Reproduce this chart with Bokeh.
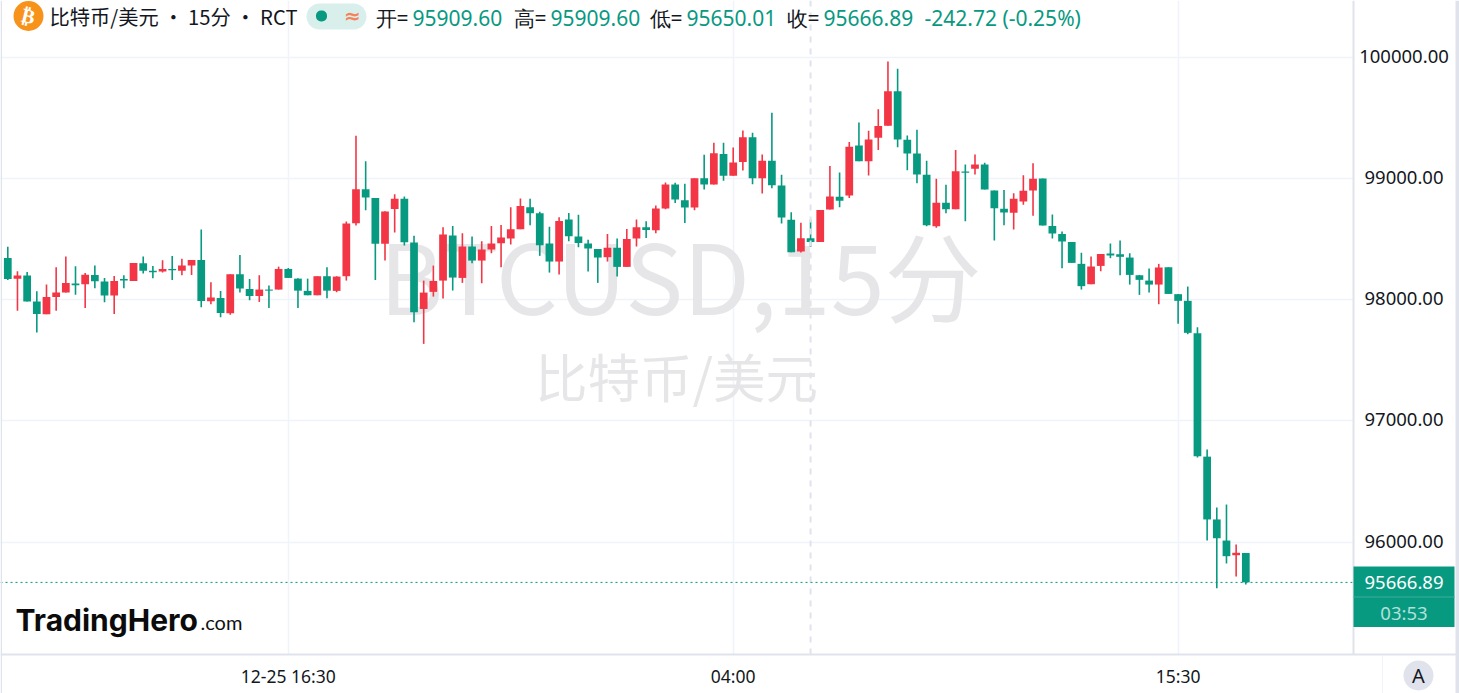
from bokeh.embed import file_html
from bokeh.resources import INLINE
from bokeh.plotting import figure
from bokeh.models import (ColumnDataSource, FixedTicker, Label, BoxAnnotation, Span, Range1d)

opens = [98343,98172,98197,97983,97878,98021,98057,98131,98126,98203,98148,98032,98170,98153,98299,98238,98230,98252,98238,98280,
98326,97985,98013,97886,98208,98087,98029,98082,98082,98252,98172,98071,98035,98192,98071,98192,98629,98910,98838,98459,
98747,98830,98470,97922,98063,98156,98527,98178,98437,98321,98412,98464,98503,98580,98761,98712,98461,98313,98659,98519,
98461,98417,98349,98426,98269,98503,98596,98571,98750,98948,98819,98759,99001,98948,99199,99020,99133,99339,99001,99144,
98940,98657,98396,98506,98475,98742,98847,98858,99270,99141,99333,99432,99718,99317,99204,99028,98605,98797,98745,99056,
99078,99113,98899,98748,98715,98808,98899,98998,98607,98541,98475,98294,98126,98277,98379,98374,98346,98200,98156,98123,
98266,98044,97989,97722,96704,96186,96012,95891,95909.60]
highs = [98436,98233,98227,98068,98123,98266,98354,98274,98219,98280,98178,98194,98200,98302,98354,98277,98324,98359,98337,98326,
98577,98142,98071,98208,98368,98170,98200,98115,98271,98260,98175,98172,98192,98266,98192,98643,99350,99141,98838,98728,
98868,98849,98525,98156,98280,98596,98607,98547,98519,98481,98607,98615,98761,98833,98830,98723,98599,98679,98714,98698,
98492,98417,98541,98503,98582,98659,98646,98775,98965,98962,98954,99001,99193,99292,99292,99254,99394,99375,99196,99540,
99028,98720,98632,98660,98739,99102,99047,99300,99460,99391,99570,99963,99903,99353,99399,99144,98995,98946,99234,99113,
99196,99127,98899,98904,98877,99025,99124,98998,98701,98561,98475,98385,98354,98376,98462,98486,98382,98203,98255,98294,
98266,98046,98107,97771,96763,96285,96309,95979,95909.60]
lows = [98161,97908,97983,97727,97878,97908,98057,98040,97930,98093,97977,97881,98093,98153,98214,98175,98222,98161,98200,98203,
97936,97961,97853,97875,98057,97994,97980,97930,98082,98178,97930,98035,98035,98010,98060,98156,98610,98736,98161,98321,
98552,98445,97812,97634,98024,98008,98074,98137,98299,98134,98382,98266,98453,98580,98613,98360,98222,98206,98481,98431,
98230,98137,98313,98189,98269,98437,98508,98547,98745,98795,98630,98737,98907,98948,98979,99020,99064,98951,98874,98918,
98627,98390,98387,98434,98475,98742,98761,98838,99141,99023,99234,99432,99256,99067,98959,98605,98591,98712,98745,98646,
99031,98907,98486,98613,98577,98781,98690,98610,98503,98258,98302,98082,98126,98233,98341,98200,98123,98038,98057,97961,
98046,97799,97714,96697,96012,95619,95823,95716,95650.01]
closes = [98170,98197,97983,97881,98021,98057,98137,98117,98205,98150,98032,98153,98156,98302,98238,98225,98252,98241,98280,98326,
97988,98016,97889,98208,98090,98029,98082,98073,98252,98178,98073,98035,98192,98073,98189,98626,98910,98841,98459,98725,
98830,98472,97895,98057,98153,98536,98181,98437,98321,98412,98461,98511,98580,98772,98712,98448,98313,98648,98522,98467,
98420,98346,98426,98269,98500,98596,98574,98750,98948,98825,98759,99001,98948,99207,99020,99130,99339,99001,99144,98943,
98676,98390,98506,98475,98739,98849,98814,99259,99141,99320,99430,99718,99320,99204,99031,98613,98797,98745,99058,99045,
99113,98907,98753,98717,98830,98896,98995,98610,98544,98478,98302,98110,98272,98376,98363,98352,98203,98162,98123,98264,
98046,97989,97725,96708,96186,96031,95883,95911,95666.89]
price_ticks = [96000, 97000, 98000, 99000, 100000]
time_ticks = {29: "12-25 16:30", 75: "04:00", 121: "15:30"}
crosshair_bar = 83

GREEN, RED, INK = "#089981", "#F23645", "#131722"
GRID, EDGE, MARK = "#f0f3fa", "#e0e3eb", "#e6e6e8"
W, H, FW, FH = 1459, 693, 1353, 654
BAR0, STEP = 7.3, 9.672
PX = 8.2474
CJK = "Noto Sans CJK SC"

xs = list(range(len(opens)))
up = [c >= o for o, c in zip(opens, closes)]
src = ColumnDataSource(dict(
    x=xs, high=highs, low=lows,
    top=[max(o, c) for o, c in zip(opens, closes)],
    bottom=[min(o, c) for o, c in zip(opens, closes)],
    color=[RED if u else GREEN for u in up],
))

# the frame fills the page, so the price tag and badges can be drawn over the axis areas
p = figure(width=W, height=H, output_backend="svg", toolbar_location=None,
           x_range=Range1d(-BAR0 / STEP, (W - BAR0) / STEP),
           y_range=Range1d(100000 + 56.5 * PX - H * PX, 100000 + 56.5 * PX),
           x_axis_location=None, y_axis_location=None, min_border=0,
           outline_line_color=None, background_fill_color="white", border_fill_color="white", margin=0)

p.xgrid.ticker = FixedTicker(ticks=list(time_ticks))
p.ygrid.ticker = FixedTicker(ticks=price_ticks)
p.xgrid.grid_line_color = GRID
p.ygrid.grid_line_color = GRID
p.xgrid.grid_line_width = 1.5
p.ygrid.grid_line_width = 1.5


def text(s, x, y, size, color=INK, font=CJK, align="left", style="normal", angle=0, level="annotation"):
    p.add_layout(Label(text=s, x=x, y=H - y, x_units="screen", y_units="screen", text_font_size=f"{size}px",
                       text_color=color, text_font=font, text_align=align, text_baseline="middle",
                       text_font_style=style, angle=angle, level=level))


def box(l, r, t, b, color, radius=0):
    p.add_layout(BoxAnnotation(left=l, right=r, top=H - t, bottom=H - b, left_units="screen", right_units="screen",
                               top_units="screen", bottom_units="screen", fill_color=color, fill_alpha=1,
                               line_color=None, border_radius=radius))


text("BTCUSD,15分", 680, 272, 97, MARK, align="center", level="underlay")
text("比特币/美元", 676, 374, 52.5, MARK, align="center", level="underlay")

p.add_layout(Span(location=crosshair_bar, dimension="height", line_color=EDGE, line_width=2, line_dash="6 6"))
p.add_layout(Span(location=closes[-1], dimension="width", line_color=GREEN, line_width=1, line_dash="2 3"))

p.segment("x", "high", "x", "low", source=src, line_color="color", line_width=1.6)
p.vbar("x", width=0.8, top="top", bottom="bottom", source=src, fill_color="color", line_color=None)

# price and time axis areas
box(FW, W, 0, H, "white")
box(0, W, FH, H, "white")
box(FW - 1, FW + 1, 0, FH, EDGE)
box(0, W, FH - 1, FH + 1, EDGE)
box(0, 1.5, 0, H, EDGE)
box(1455, W, 0, H, EDGE)
box(1381.5, 1382.5, FH + 1, H, GRID)
for t in price_ticks:
    p.add_layout(Label(text=f"{t:.2f}", x=1403.5, y=t, x_units="screen", y_units="data", y_offset=1,
                       text_font_size="18.5px", text_color=INK, text_font="Noto Sans", text_align="center",
                       text_baseline="middle"))
for bar, s in time_ticks.items():
    p.add_layout(Label(text=s, x=bar, y=H - 675, x_units="data", y_units="screen", text_font_size="17.5px",
                       text_color=INK, text_font="Noto Sans", text_align="center", text_baseline="middle"))

box(13, 43, 0.5, 30.5, "#F7931A", 15)
box(306, 366, 3, 29, "#d9efec", 13)
box(315.5, 326.5, 10, 21, GREEN, 5)
box(FW, 1454, 566, 626.5, GREEN)
box(FW, 1454, 596, 597, "#3aad9a")
box(1403, 1433, 660, 690, EDGE, 15)

text("₿", 28, 15.5, 20, "white", font="DejaVu Sans", align="center", style="bold", angle=-0.24)
text("比特币/美元 · 15分 · RCT", 49, 15.5, 20.25)
text("≈", 352, 15, 20, "#F7825A", font="DejaVu Sans", align="center", style="bold")
for s, x, c in [("开=", 375, INK), (f"{opens[-1]:.2f}", 412, GREEN),
                ("高=", 513, INK), (f"{highs[-1]:.2f}", 550, GREEN),
                ("低=", 649, INK), (f"{lows[-1]:.2f}", 686, GREEN),
                ("收=", 786, INK), (f"{closes[-1]:.2f}", 823, GREEN),
                ("-242.72 (-0.25%)", 924, GREEN)]:
    text(s, x, 17, 21, c, font="Noto Sans")

text(f"{closes[-1]:.2f}", 1403.5, 581.5, 18.5, "white", font="Noto Sans", align="center")
text("03:53", 1403.5, 611.5, 18.5, "#b5e0d9", font="Noto Sans", align="center")
text("A", 1418, 675, 20, INK, font="Noto Sans", align="center")
text("TradingHero", 15, 619, 30, "#0b0b0b", font="Inter", style="bold")
text(".com", 200, 621, 20, "#111111", font="Lato")

open("out.html", "w").write(file_html(p, INLINE))
